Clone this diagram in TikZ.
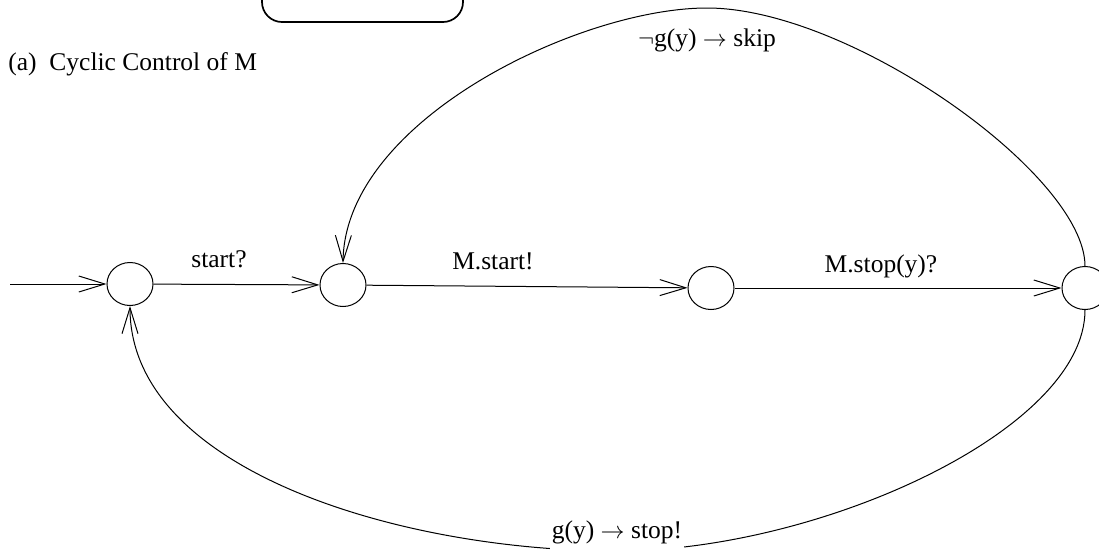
\documentclass[tikz,border=0pt]{standalone}
\usepackage{fontspec}
\setmainfont{Liberation Serif}
\usetikzlibrary{arrows.meta,shapes.geometric}
\begin{document}
\begin{tikzpicture}[x=0.5pt,y=-0.5pt,
  state/.style={ellipse,draw,line width=0.5pt,minimum width=23pt,minimum height=21.5pt,inner sep=0pt},
  arr/.style={draw,line width=0.5pt,-{Straight Barb[length=13pt,width=8pt,line width=0.5pt]}},
  lbl/.style={anchor=base,font=\fontsize{12.75}{15}\selectfont,inner sep=0pt},
  framebox/.style={draw,line width=0.85pt,rounded corners=10pt,inner sep=0pt,minimum width=100.5pt,minimum height=31pt}
]
\useasboundingbox (0,0) rectangle (1099,553);
\clip (0,0) rectangle (1099,553);
\node[framebox] (box) at (362.5,-9) {};
\node[state] (c1) at (130,284) {};
\node[state] (c2) at (343,285) {};
\node[state] (c3) at (711,288) {};
\node[state] (c4) at (1085,288) {};
\coordinate (in) at (10,284);
\coordinate (toppeak) at (707,8);
\coordinate (botlow) at (617,551);
\draw[arr] (in) -- (c1);
\draw[arr] (c1) -- (c2);
\draw[arr] (c2) -- (c3);
\draw[arr] (c3) -- (c4);
\draw[arr] (c4.north) .. controls (1085,175) and (850,8) .. (toppeak) .. controls (580,8) and (345,120) .. (c2.north);
\draw[arr] (c4.south) .. controls (1085,430) and (820,551) .. (botlow) .. controls (400,551) and (130,470) .. (c1.south);
\node[lbl] (l1) at (219,267) {start?};
\node[lbl] (l2) at (493,269) {M.start!};
\node[lbl] (l3) at (881,272) {M.stop(y)?};
\node[lbl] (l4) at (707,46) {$\neg$g(y) $\rightarrow$ skip};
\node[lbl,fill=white,inner xsep=1pt,inner ysep=4pt] (l5) at (617,538) {g(y) $\rightarrow$ stop!};
\node[lbl,anchor=base west] (cap) at (8,70) {(a)\enspace Cyclic Control of M};
\end{tikzpicture}
\end{document}
